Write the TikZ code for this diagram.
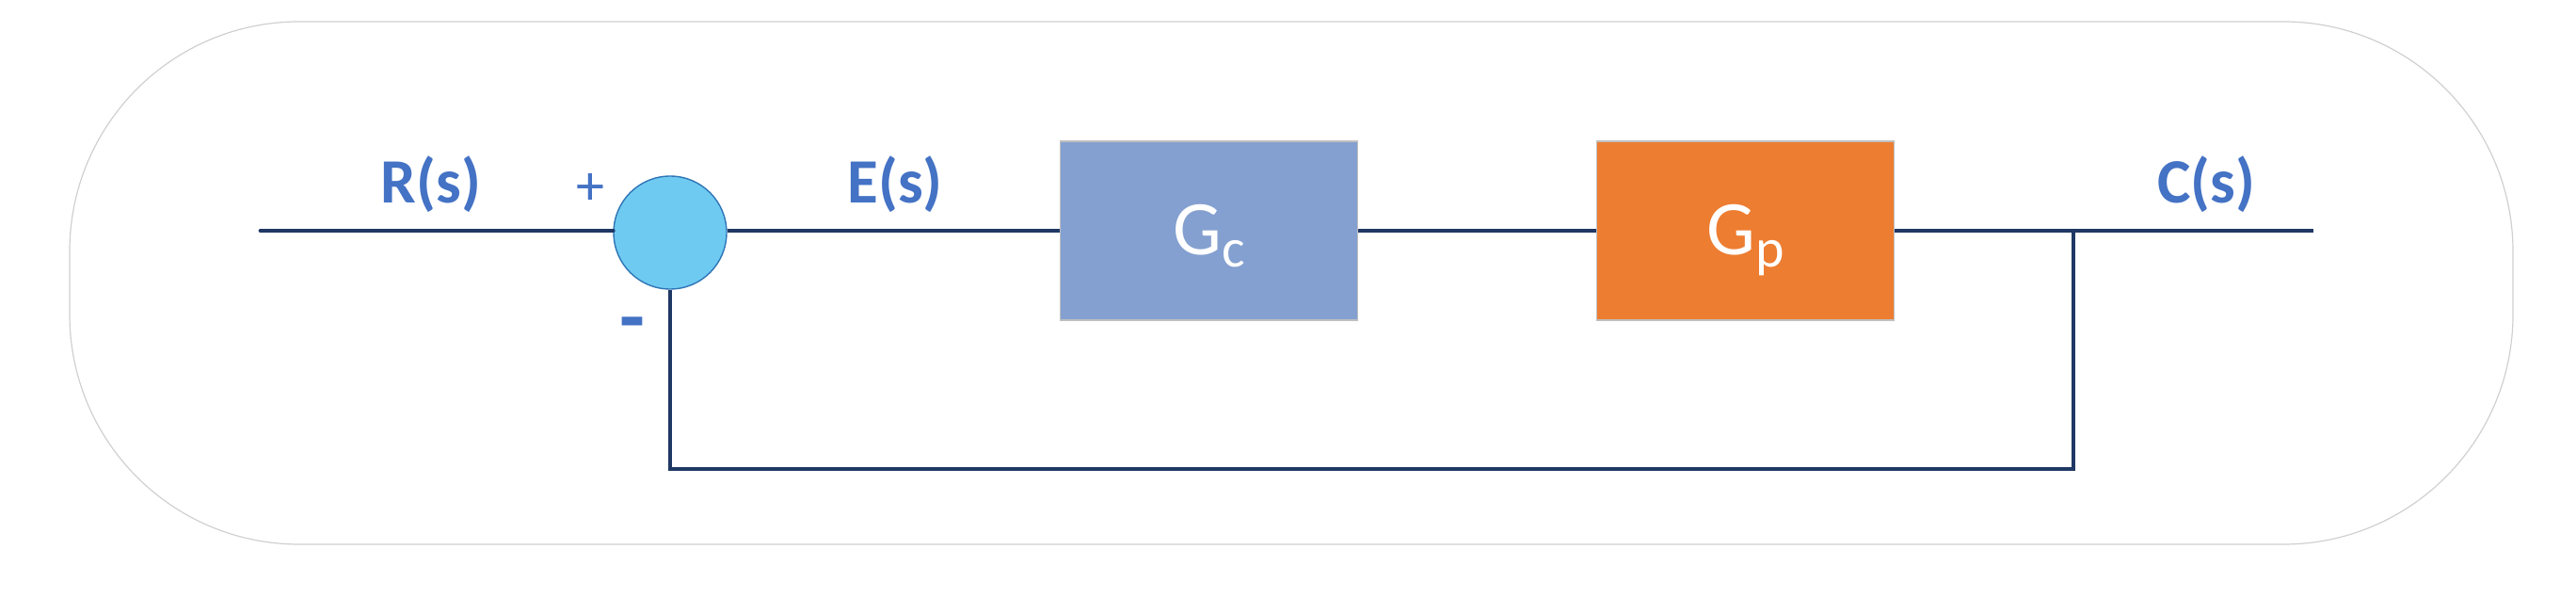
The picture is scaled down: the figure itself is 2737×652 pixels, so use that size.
\documentclass[tikz,border=0pt]{standalone}
\usepackage{fontspec}
\setmainfont{Carlito}
\definecolor{linecol}{HTML}{1F3864}
\definecolor{lblblue}{HTML}{4472C4}
\definecolor{gcfill}{HTML}{84A0D0}
\definecolor{gpfill}{HTML}{ED7D31}
\definecolor{sumfill}{HTML}{6FCAF1}
\definecolor{sumdraw}{HTML}{2E75B6}
\definecolor{boxdraw}{HTML}{C0C0C0}
\definecolor{outerdraw}{HTML}{D0D0D0}
\begin{document}
\begin{tikzpicture}[x=0.5pt,y=-0.5pt,
  outer/.style={draw=outerdraw,line width=0.6pt,rounded corners=122pt},
  conn/.style={draw=linecol,line width=2.4pt},
  sumnode/.style={circle,fill=sumfill,draw=sumdraw,line width=0.7pt,minimum size=60pt,inner sep=0pt},
  blockbox/.style={rectangle,draw=boxdraw,line width=0.6pt,minimum width=158.3pt,minimum height=95pt,inner sep=0pt,
     text=white,font=\fontsize{41}{41}\selectfont,text height=26pt,text depth=0pt},
  lbl/.style={text=lblblue,font=\fontsize{33.5}{33.5}\selectfont\bfseries,inner sep=0pt,anchor=base},
  signlbl/.style={text=lblblue,inner sep=0pt}
]
\useasboundingbox (0,0) rectangle (2737,652);
\draw[outer] (74,23) rectangle (2670,578);

\node[sumnode] (sum) at (712,247) {};
\node[blockbox,fill=gcfill] (gc) at (1284.5,245) {G\raisebox{-6pt}{\fontsize{29}{29}\selectfont c}};
\node[blockbox,fill=gpfill] (gp) at (1854.5,245) {G\raisebox{-6pt}{\fontsize{29}{29}\selectfont p}};

\node[lbl] (rlab) at (458,216) {R(s)};
\node[lbl] (elab) at (951,216) {E(s)};
\node[lbl] (clab) at (2344,216) {C(s)};
\node[signlbl,font=\fontsize{30}{30}\selectfont] (plus) at (627,201) {+};
\node[signlbl,font=\fontsize{44}{44}\selectfont\bfseries,anchor=base] (minus) at (672,366) {-};

\coordinate (in) at (277,245);
\coordinate (out) at (2458,245);
\coordinate (junc) at (2203,245);
\coordinate (fb) at (2203,498);

\draw[conn,line cap=round] (in) -- (in -| sum.west);
\draw[conn] (in -| sum.east) -- (in -| gc.west);
\draw[conn] (gc.east) -- (gp.west);
\draw[conn] (gp.east) -- (out);
\draw[conn] (junc) -- (fb) -| (sum.south);
\end{tikzpicture}
\end{document}
